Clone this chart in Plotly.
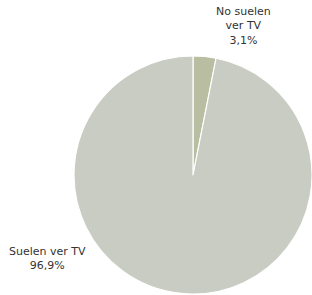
import plotly.graph_objects as go

labels = ["No suelen<br>ver TV", "Suelen ver TV"]
values = [3.1, 96.9]
colors = ["#b9bda1", "#c8ccc3"]

W, H = 312, 295
fig = go.Figure(go.Pie(
    labels=labels, values=values, sort=False, direction="clockwise", rotation=0,
    marker=dict(colors=colors, line=dict(color="white", width=1.2)),
    textinfo="none", hoverinfo="label+percent",
    domain=dict(x=[74 / W, 1.0], y=[0, 240 / H]),
))

def fmt(v):
    return f"{v:.1f}".replace(".", ",") + "%"

ann_pos = [(243, 26), (47, 258)]
for lab, v, (px, py) in zip(labels, values, ann_pos):
    fig.add_annotation(x=px / W, y=1 - py / H, xref="paper", yref="paper",
                       text=f"{lab}<br>{fmt(v)}", showarrow=False,
                       font=dict(family="DejaVu Sans", size=11, color="#333333"),
                       align="center", xanchor="center", yanchor="middle")

fig.update_layout(width=W, height=H, margin=dict(l=0, r=0, t=0, b=0),
                  showlegend=False, paper_bgcolor="white", plot_bgcolor="white")
fig.write_html("out.html", config={"displayModeBar": False},
               post_script="document.body.style.margin='0';document.body.style.overflow='hidden';")
